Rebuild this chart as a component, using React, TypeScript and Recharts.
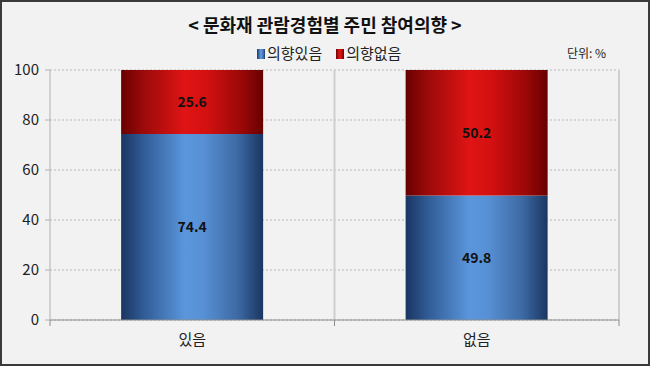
import { BarChart, Bar, XAxis, YAxis, CartesianGrid, LabelList } from "recharts";

const categories = ["있음", "없음"];
const willing = [74.4, 49.8];
const unwilling = [25.6, 50.2];
const yTicks = [0, 20, 40, 60, 80, 100];

const data = categories.map((name, i) => ({
  name,
  willing: willing[i],
  unwilling: unwilling[i],
}));

const FONT = "'Noto Sans CJK KR', 'Noto Sans', sans-serif";

// x축 라벨 + 구간 경계 눈금
const XTick = (props: any) => {
  const { x, y, payload } = props;
  const off = payload?.offset ?? 0;
  return (
    <g>
      <line x1={x - off} y1={y - 8} x2={x - off} y2={y - 2} stroke="#8c8c8c" />
      <line x1={x + off} y1={y - 8} x2={x + off} y2={y - 2} stroke="#8c8c8c" />
      <text x={x} y={y + 17} textAnchor="middle" fontSize={15} fill="#222" fontFamily={FONT}>
        {payload.value}
      </text>
    </g>
  );
};

const Swatch = ({ id }: { id: string }) => (
  <svg width={8} height={10} style={{ marginRight: 2, verticalAlign: "0px" }}>
    <rect width={8} height={10} fill={`url(#${id})`} />
  </svg>
);

export default function App() {
  return (
    <div
      style={{
        position: "fixed",
        left: 0,
        top: 0,
        width: 650,
        height: 366,
        boxSizing: "border-box",
        border: "2px solid #3a3a3a",
        background: "#f2f2f2",
        fontFamily: FONT,
        overflow: "hidden",
      }}
    >
      <div
        style={{
          position: "absolute",
          top: 9,
          left: 0,
          width: 646,
          textAlign: "center",
          fontSize: 18,
          fontWeight: 700,
          color: "#111",
        }}
      >
        &lt; 문화재 관람경험별 주민 참여의향 &gt;
      </div>
      <div
        style={{
          position: "absolute",
          top: 40,
          left: 255,
          fontSize: 15,
          color: "#222",
          whiteSpace: "nowrap",
        }}
      >
        <Swatch id="blueGrad" />
        의향있음
        <span style={{ display: "inline-block", width: 14 }} />
        <Swatch id="redGrad" />
        의향없음
      </div>
      <div style={{ position: "absolute", top: 42, left: 565, fontSize: 12, color: "#222" }}>
        단위: %
      </div>
      <div style={{ position: "absolute", left: -2, top: -2 }}>
        <BarChart
          width={650}
          height={366}
          data={data}
          barCategoryGap="25%"
          margin={{ top: 70, right: 31, bottom: 16, left: 0 }}
        >
          <defs>
            <linearGradient id="blueGrad" x1="0" y1="0" x2="1" y2="0">
              <stop offset="0%" stopColor="#1a3460" />
              <stop offset="15%" stopColor="#2f5a94" />
              <stop offset="45%" stopColor="#5b96dc" />
              <stop offset="58%" stopColor="#5790d4" />
              <stop offset="82%" stopColor="#3d6aa4" />
              <stop offset="100%" stopColor="#1a3562" />
            </linearGradient>
            <linearGradient id="redGrad" x1="0" y1="0" x2="1" y2="0">
              <stop offset="0%" stopColor="#680000" />
              <stop offset="15%" stopColor="#9a0a0a" />
              <stop offset="45%" stopColor="#e01414" />
              <stop offset="60%" stopColor="#d41010" />
              <stop offset="85%" stopColor="#9a0808" />
              <stop offset="100%" stopColor="#680000" />
            </linearGradient>
          </defs>
          <CartesianGrid
            horizontal
            vertical={false}
            stroke="#b8b8b8"
            strokeDasharray="2 2"
          />
          <CartesianGrid
            horizontal={false}
            vertical
            stroke="#cfcfcf"
            strokeWidth={2}
            verticalCoordinatesGenerator={({ offset }: any) => [
              offset.left + offset.width / 2,
              offset.left + offset.width,
            ]}
          />
          <XAxis
            dataKey="name"
            height={30}
            axisLine={{ stroke: "#8c8c8c" }}
            tickLine={false}
            tick={<XTick />}
            interval={0}
          />
          <YAxis
            width={50}
            domain={[0, 100]}
            ticks={yTicks}
            axisLine={{ stroke: "#b0b0b0" }}
            tickLine={{ stroke: "#b0b0b0" }}
            tickSize={5}
            tickMargin={6}
            tick={{ fontSize: 15, fill: "#222", fontFamily: FONT }}
          />
          <Bar dataKey="willing" stackId="a" fill="url(#blueGrad)" isAnimationActive={false}>
            <LabelList
              dataKey="willing"
              position="center"
              style={{ fontSize: 14, fontWeight: 700, fill: "#111", fontFamily: FONT }}
            />
          </Bar>
          <Bar dataKey="unwilling" stackId="a" fill="url(#redGrad)" isAnimationActive={false}>
            <LabelList
              dataKey="unwilling"
              position="center"
              style={{ fontSize: 14, fontWeight: 700, fill: "#111", fontFamily: FONT }}
            />
          </Bar>
        </BarChart>
      </div>
    </div>
  );
}
